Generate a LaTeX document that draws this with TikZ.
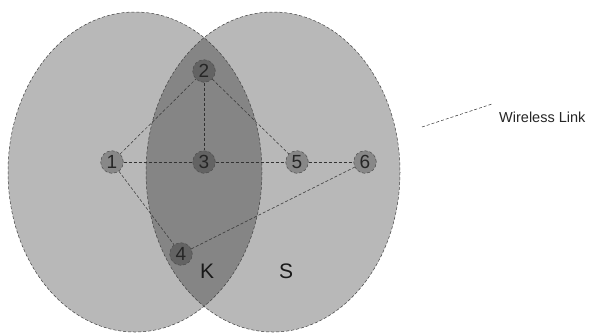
\documentclass[tikz,border=0pt]{standalone}
\usepackage{fontspec}
\setmainfont{Liberation Sans}
\begin{document}
\begin{tikzpicture}[x=1pt,y=-1pt,
  zone/.style={fill=black,fill opacity=0.28,draw=none},
  zoneedge/.style={draw=black!75,densely dashed,line width=0.5pt},
  nd/.style={circle,fill=black,fill opacity=0.26,text opacity=1,draw=black!70,densely dashed,line width=0.5pt,minimum size=22.6pt,inner sep=0pt,font=\fontsize{19}{19}\selectfont,text=black!85},
  link/.style={draw=black!80,densely dashed,line width=0.5pt},
  lbl/.style={font=\fontsize{21}{21}\selectfont,text=black!90}]
\useasboundingbox (0,0) rectangle (593,333);
\clip (0,0) rectangle (593,333);
% zones
\fill[zone] (135,172) ellipse [x radius=127,y radius=160];
\fill[zone] (273,172) ellipse [x radius=127,y radius=160];
\draw[zoneedge] (135,172) ellipse [x radius=127,y radius=160];
\draw[zoneedge] (273,172) ellipse [x radius=127,y radius=160];
% nodes
\node[nd] (n1) at (112,162) {1};
\node[nd] (n2) at (204,71) {2};
\node[nd] (n3) at (204,162) {3};
\node[nd] (n4) at (181,254) {4};
\node[nd] (n5) at (297,162) {5};
\node[nd] (n6) at (365,162) {6};
% links
\draw[link] (n1) -- (n2);
\draw[link] (n2) -- (n3);
\draw[link] (n2) -- (n5);
\draw[link] (n1) -- (n3);
\draw[link] (n3) -- (n5);
\draw[link] (n5) -- (n6);
\draw[link] (n1) -- (n4);
\draw[link] (n4) -- (n6);
% labels
\node[lbl] (k) at (207,271) {K};
\node[lbl] (s) at (286,271) {S};
% legend
\coordinate (la) at (422,127);
\coordinate (lb) at (492,104);
\draw[link] (la) -- (lb);
\node[anchor=west,inner sep=0pt,font=\fontsize{14.5}{14.5}\selectfont,text=black!85] (wl) at (499,117) {Wireless Link};
\end{tikzpicture}
\end{document}
